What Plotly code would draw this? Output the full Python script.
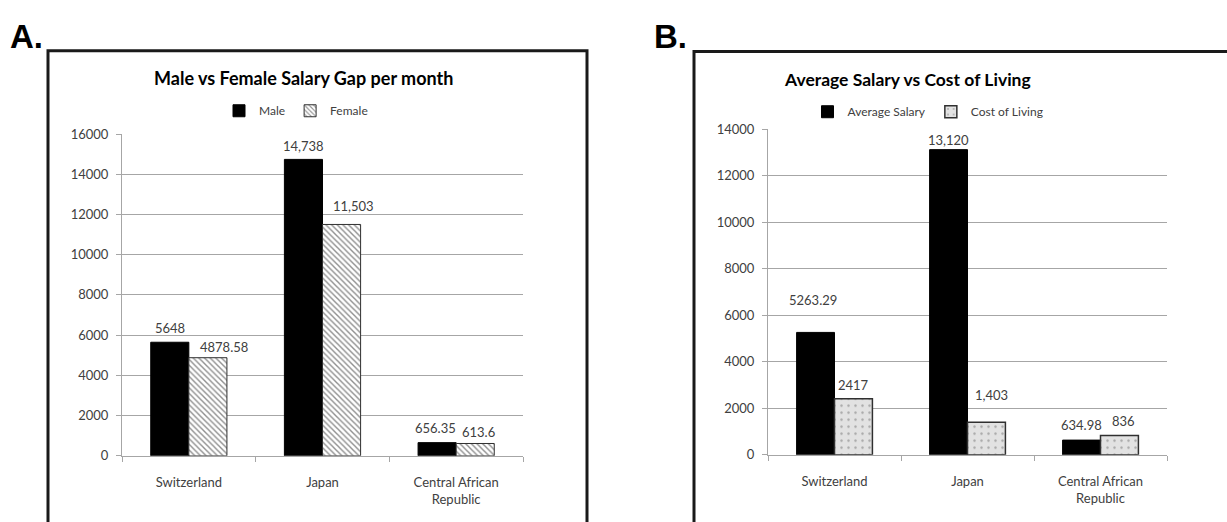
import plotly.graph_objects as go

# ---- data -------------------------------------------------------------
countries = ["Switzerland", "Japan", "Central African<br>Republic"]

male_salary = [5648, 14738, 656.35]
female_salary = [4878.58, 11503, 613.6]
male_labels = ["5648", "14,738", "656.35"]
female_labels = ["4878.58", "11,503", "613.6"]

avg_salary = [5263.29, 13120, 634.98]
cost_of_living = [2417, 1403, 836]
avg_labels = ["5263.29", "13,120", "634.98"]
col_labels = ["2417", "1,403", "836"]

ticks_a = [0, 2000, 4000, 6000, 8000, 10000, 12000, 14000, 16000]
ticks_b = [0, 2000, 4000, 6000, 8000, 10000, 12000, 14000]

# label nudges in pixels (dx, dy above bar top)
male_nudge = [(0, 14), (0, 13), (-2, 15)]
female_nudge = [(16, 11), (12, 18), (3, 11)]
avg_nudge = [(-3, 32), (0, 10), (0, 15)]
col_nudge = [(0, 14), (5, 27), (4, 14)]

# ---- layout geometry --------------------------------------------------
W, H = 1227, 522
FONT = "Lato"
TXT = "#404040"
GRID = "#a6a6a6"

xa = (122 / W, 523 / W)
ya = (1 - 462 / H, 1 - 130 / H)
xb = (768 / W, 1167 / W)
yb = (1 - 461 / H, 1 - 125 / H)
BARGAP = 0.43


def half_bar(dom):
    width_px = (dom[1] - dom[0]) * W
    return width_px / 3 * (1 - BARGAP) / 4


fig = go.Figure()

fig.add_trace(go.Bar(
    x=countries, y=male_salary, name="Male",
    marker=dict(color="black", line=dict(color="black", width=1)),
    xaxis="x", yaxis="y", legend="legend",
))
fig.add_trace(go.Bar(
    x=countries, y=female_salary, name="Female",
    marker=dict(color="white", line=dict(color="#303030", width=1),
                pattern=dict(shape="\\", fgcolor="#202020", bgcolor="white",
                             size=4, solidity=0.35)),
    xaxis="x", yaxis="y", legend="legend",
))
fig.add_trace(go.Bar(
    x=countries, y=avg_salary, name="Average Salary",
    marker=dict(color="black", line=dict(color="black", width=1)),
    xaxis="x2", yaxis="y2", legend="legend2",
))
fig.add_trace(go.Bar(
    x=countries, y=cost_of_living, name="Cost of Living",
    marker=dict(color="#e2e2e2", line=dict(color="#303030", width=1.5),
                pattern=dict(shape=".", fgcolor="#707070", bgcolor="#e2e2e2",
                             size=7, solidity=0.1)),
    xaxis="x2", yaxis="y2", legend="legend2",
))

annotations = []


def add_labels(xref, yref, values, labels, nudges, side, hb):
    for c, v, t, (dx, dy) in zip(countries, values, labels, nudges):
        annotations.append(dict(
            x=c, y=v, xref=xref, yref=yref, text=t, showarrow=False,
            xshift=side * hb + dx, yshift=dy, xanchor="center",
            yanchor="middle",
            font=dict(family=FONT, size=13, color=TXT),
        ))


add_labels("x", "y", male_salary, male_labels, male_nudge, -1, half_bar(xa))
add_labels("x", "y", female_salary, female_labels, female_nudge, 1, half_bar(xa))
add_labels("x2", "y2", avg_salary, avg_labels, avg_nudge, -1, half_bar(xb))
add_labels("x2", "y2", cost_of_living, col_labels, col_nudge, 1, half_bar(xb))

# chart titles and panel letters
annotations += [
    dict(x=303 / W, y=1 - 72 / H, xref="paper", yref="paper", showarrow=False,
         xanchor="center", yanchor="middle",
         text="<b>Male vs Female Salary Gap per month</b>",
         font=dict(family=FONT, size=18, color="black")),
    dict(x=907 / W, y=1 - 74 / H, xref="paper", yref="paper", showarrow=False,
         xanchor="center", yanchor="middle",
         text="<b>Average Salary vs Cost of Living</b>",
         font=dict(family=FONT, size=17.5, color="black")),
    dict(x=8 / W, y=1 - 29 / H, xref="paper", yref="paper", showarrow=False,
         xanchor="left", yanchor="middle", text="<b>A.</b>",
         font=dict(family="Liberation Sans", size=33, color="black")),
    dict(x=652 / W, y=1 - 29 / H, xref="paper", yref="paper", showarrow=False,
         xanchor="left", yanchor="middle", text="<b>B.</b>",
         font=dict(family="Liberation Sans", size=33, color="black")),
]

# panel frames
shapes = [
    dict(type="rect", xref="paper", yref="paper", x0=48 / W, x1=587 / W,
         y0=-0.2, y1=1 - 44 / H, line=dict(color="#1a1a1a", width=3)),
    dict(type="rect", xref="paper", yref="paper", x0=694 / W, x1=1.2,
         y0=-0.2, y1=1 - 45 / H, line=dict(color="#1a1a1a", width=3)),
]

xcommon = dict(type="category", showgrid=False, showline=True, linecolor=GRID,
               linewidth=1, ticks="outside", tickson="boundaries", ticklen=5,
               tickcolor=GRID, tickfont=dict(family=FONT, size=13, color=TXT),
               ticklabelstandoff=15, fixedrange=True)
ycommon = dict(showgrid=True, gridcolor=GRID, gridwidth=1, showline=True,
               linecolor=GRID, linewidth=1, ticks="outside", ticklen=5,
               tickcolor=GRID, tickfont=dict(family=FONT, size=13, color=TXT),
               zeroline=False, ticklabelstandoff=5, tickformat="d")

legend_common = dict(orientation="h", xanchor="center", yanchor="middle",
                     font=dict(family=FONT, size=12, color=TXT),
                     bgcolor="rgba(0,0,0,0)", itemwidth=30,
                     tracegroupgap=0)

fig.update_layout(
    width=W, height=H,
    margin=dict(l=0, r=0, t=0, b=0),
    paper_bgcolor="white", plot_bgcolor="white",
    barmode="group", bargap=BARGAP, bargroupgap=0,
    xaxis=dict(domain=list(xa), anchor="y", **xcommon),
    yaxis=dict(domain=list(ya), anchor="x", range=[0, 16000],
               tickvals=ticks_a, **ycommon),
    xaxis2=dict(domain=list(xb), anchor="y2", **xcommon),
    yaxis2=dict(domain=list(yb), anchor="x2", range=[0, 14000],
                tickvals=ticks_b, **ycommon),
    legend=dict(x=296 / W, y=1 - 106 / H, **legend_common),
    legend2=dict(x=928 / W, y=1 - 107 / H, **legend_common),
    annotations=annotations,
    shapes=shapes,
    showlegend=True,
)

fig.write_html("out.html")
